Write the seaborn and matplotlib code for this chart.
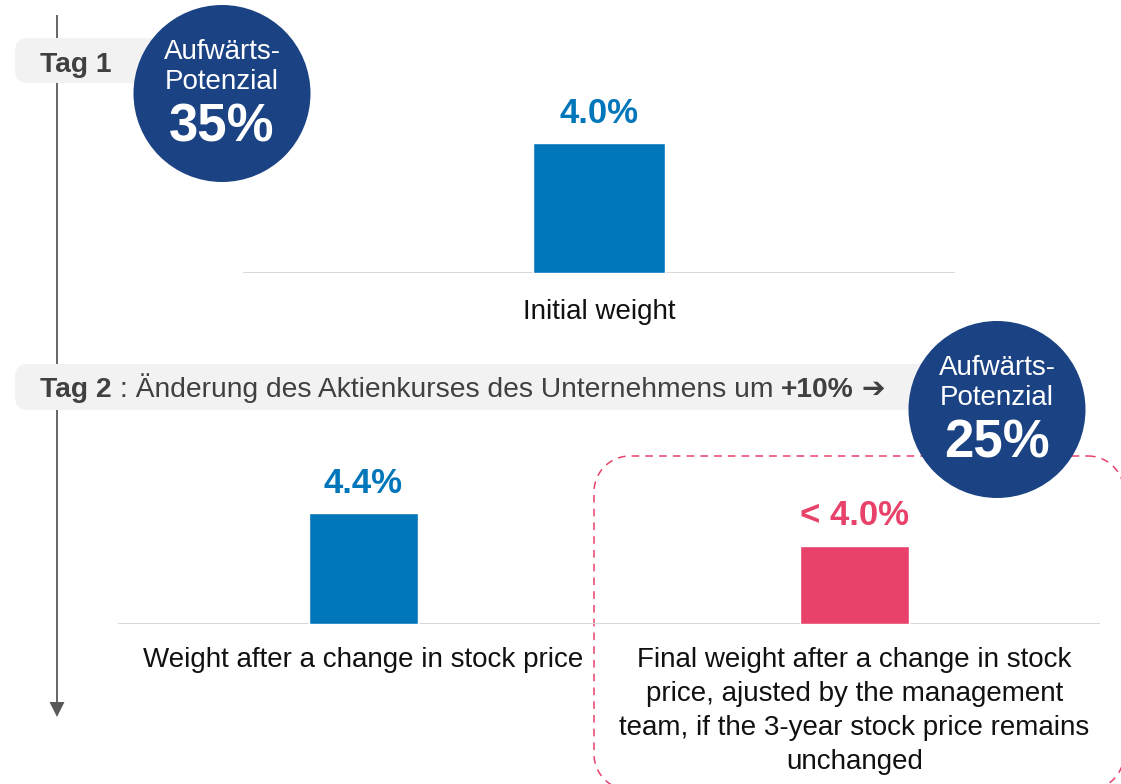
import matplotlib
matplotlib.use("Agg")
import matplotlib.pyplot as plt
import seaborn as sns
import pandas as pd
import numpy as np
from matplotlib.patches import FancyBboxPatch, Circle, Polygon

# ---------------- data ----------------
day1_categories = ["Initial weight"]
day1_values = [4.0]
day1_labels = ["4.0%"]

day2_categories = [
    "Weight after a change in stock price",
    "Final weight after a change in stock\nprice, ajusted by the management\nteam, if the 3-year stock price remains\nunchanged",
]
day2_values = [4.4, 3.1]
day2_labels = ["4.4%", "< 4.0%"]

upside_values = ["35%", "25%"]
upside_title = ["Aufwärts-", "Potenzial"]

tag1_text = "Tag 1"
tag2_parts = [("Tag 2", "bold"),
              (" : Änderung des Aktienkurses des Unternehmens um ", "normal"),
              ("+10%", "bold"),
              (" ➔", "bold")]

# ---------------- style ----------------
BLUE = "#0176BA"
PINK = "#E8426A"
NAVY = "#1B4384"
PILL = "#F2F2F2"
TAG_TXT = "#404040"
BASE = "#D9D9D9"
TIMELINE = "#595959"

sns.set_theme(style="white")
plt.rcParams["font.family"] = ["Liberation Sans", "DejaVu Sans"]

W, H = 1121, 784
fig = plt.figure(figsize=(W / 100, H / 100), dpi=100)
fig.patch.set_facecolor("white")

# background / decoration axes in pixel coordinates
bg = fig.add_axes([0, 0, 1, 1])
bg.set_xlim(0, W)
bg.set_ylim(H, 0)
bg.axis("off")
bg.set_zorder(0)

# timeline
bg.plot([57, 57], [15, 704], color=TIMELINE, lw=1.3, zorder=1, solid_capstyle="butt")
bg.add_patch(Polygon([(49.5, 702), (64.5, 702), (57, 717)], closed=True,
                     facecolor=TIMELINE, edgecolor="none", zorder=1))

# pills
bg.add_patch(FancyBboxPatch((15, 38), 150, 45, boxstyle="round,pad=0,rounding_size=13",
                            facecolor=PILL, edgecolor="none", zorder=2))
bg.add_patch(FancyBboxPatch((15, 364), 920, 46, boxstyle="round,pad=0,rounding_size=13",
                            facecolor=PILL, edgecolor="none", zorder=2))


# dashed rounded box around the adjusted weight (pixel coordinates, y down)
def rounded_outline(x0, y0, x1, y1, r, n=24):
    pts = []
    for cx, cy, a0 in [(x1 - r, y0 + r, -90), (x1 - r, y1 - r, 0),
                       (x0 + r, y1 - r, 90), (x0 + r, y0 + r, 180)]:
        ang = np.radians(np.linspace(a0, a0 + 90, n))
        pts += list(zip(cx + r * np.cos(ang), cy + r * np.sin(ang)))
    pts.append(pts[0])
    xs, ys = zip(*pts)
    return xs, ys


bx, by = rounded_outline(594, 456, 1124, 790, 36)
bg.plot(bx, by, color=PINK, lw=1.1, linestyle=(0, (5, 4)), zorder=3)

# upside circles
for (cx, cy), val in zip([(222, 93.5), (997, 409.5)], upside_values):
    bg.add_patch(Circle((cx, cy), 88.5, facecolor=NAVY, edgecolor="none", zorder=4))
    bg.text(cx, cy - 35, upside_title[0], color="white", fontsize=20,
            ha="center", va="baseline", zorder=5)
    bg.text(cx, cy - 5, upside_title[1], color="white", fontsize=20,
            ha="center", va="baseline", zorder=5)
    bg.text(cx, cy + 48, val, color="white", fontsize=38, fontweight="bold",
            ha="center", va="baseline", zorder=5)

# tag texts
bg.text(40, 72, tag1_text, color=TAG_TXT, fontsize=20.3, fontweight="bold",
        ha="left", va="baseline", zorder=5)

fig.canvas.draw()
renderer = fig.canvas.get_renderer()
x_px = 40
for s, w in tag2_parts:
    t = fig.text(x_px / W, 1 - 397 / H, s, color=TAG_TXT, fontsize=20.3,
                 fontweight=w, ha="left", va="baseline", zorder=5)
    bb = t.get_window_extent(renderer)
    x_px = bb.x1


def style_axes(ax):
    ax.patch.set_alpha(0)
    ax.set_xlabel("")
    ax.set_ylabel("")
    ax.set_yticks([])
    for sp in ax.spines.values():
        sp.set_visible(False)
    ax.tick_params(axis="x", length=0, pad=19, labelsize=20, labelcolor="#111111")


# ---------------- day 1 bars ----------------
df1 = pd.DataFrame({"category": day1_categories, "value": day1_values})
ax1 = fig.add_axes([243 / W, 1 - 273 / H, 712 / W, 162.5 / H])
ax1.set_zorder(1)
sns.barplot(data=df1, x="category", y="value", hue="category", palette=[BLUE],
            width=0.185, saturation=1, legend=False, ax=ax1, zorder=2)
ax1.set_xlim(-0.5, 0.5)
ax1.set_ylim(0, 5)
ax1.axhline(0, color=BASE, lw=2.2, zorder=1)
for cont, lab in zip(ax1.containers, day1_labels):
    ax1.bar_label(cont, labels=[lab], padding=9.5, color=BLUE, fontsize=25,
                  fontweight="bold")
style_axes(ax1)

# ---------------- day 2 bars ----------------
df2 = pd.DataFrame({"category": day2_categories, "value": day2_values})
ax2 = fig.add_axes([118 / W, 1 - 623.5 / H, 982 / W, 150.6 / H])
ax2.set_zorder(1)
sns.barplot(data=df2, x="category", y="value", hue="category", palette=[BLUE, PINK],
            width=0.224, saturation=1, legend=False, ax=ax2, zorder=2)
ax2.set_xlim(-0.5, 1.5)
ax2.set_ylim(0, 6)
ax2.axhline(0, color=BASE, lw=2.2, zorder=1)
for cont, lab, col in zip(ax2.containers, day2_labels, [BLUE, PINK]):
    ax2.bar_label(cont, labels=[lab], padding=9.5, color=col, fontsize=25,
                  fontweight="bold")
style_axes(ax2)
ax2.tick_params(axis="x", pad=17)
for lbl in ax2.get_xticklabels():
    lbl.set_linespacing(1.39)

fig.savefig("out.png", dpi=100)
